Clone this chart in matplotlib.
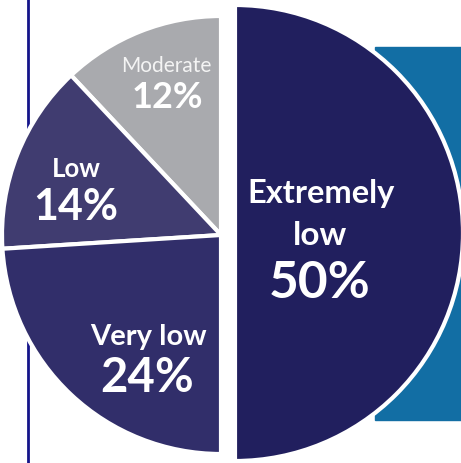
import matplotlib
matplotlib.use('Agg')
import matplotlib.pyplot as plt
from matplotlib.patches import Rectangle

labels = ['Moderate', 'Low', 'Very low', 'Extremely low']
shares = [12, 14, 24, 50]
colors = ['#a9aaae', '#403c70', '#312e6a', '#211f5e']
    # slices, counter-clockwise from the top

plt.rcParams['font.family'] = ['Lato', 'DejaVu Sans']

fig = plt.figure(figsize=(4.61, 4.64), dpi=100)
ax = fig.add_axes([0, 0, 1, 1])

wedges, _ = ax.pie(shares, colors=colors, startangle=90, counterclock=True,
                   center=(221, 228), radius=219,
                   wedgeprops=dict(edgecolor='white', linewidth=3))
wedges[3].set_center((235, 230))
wedges[3].set_radius(228)
    # pull the big slice out to the right and make it a bit larger

ax.add_patch(Rectangle((375, 43), 120, 373, color='#126ea4', zorder=0))
ax.axvline(27.5, color='#14148a', linewidth=2, zorder=0)
    # background block and rule

ax.set_xlim(0, 461)
ax.set_ylim(0, 464)
ax.set_aspect('equal')
ax.axis('off')

H = 464
ax.text(166, H - 72, 'Moderate', color='#f4f4f4', fontsize=15, ha='center', va='baseline')
ax.text(167, H - 108, '12%', color='white', fontsize=26, fontweight='bold', ha='center', va='baseline')
ax.text(76, H - 177, 'Low', color='white', fontsize=18.5, fontweight='bold', ha='center', va='baseline')
ax.text(76, H - 220, '14%', color='white', fontsize=31, fontweight='bold', ha='center', va='baseline')
ax.text(148, H - 345, 'Very low', color='white', fontsize=21, fontweight='bold', ha='center', va='baseline')
ax.text(147, H - 392, '24%', color='white', fontsize=34, fontweight='bold', ha='center', va='baseline')
ax.text(321, H - 203, 'Extremely', color='white', fontsize=23.5, fontweight='bold', ha='center', va='baseline')
ax.text(320, H - 245, 'low', color='white', fontsize=24, fontweight='bold', ha='center', va='baseline')
ax.text(320, H - 298, '50%', color='white', fontsize=37, fontweight='bold', ha='center', va='baseline')

fig.savefig('out.png', dpi=100)
